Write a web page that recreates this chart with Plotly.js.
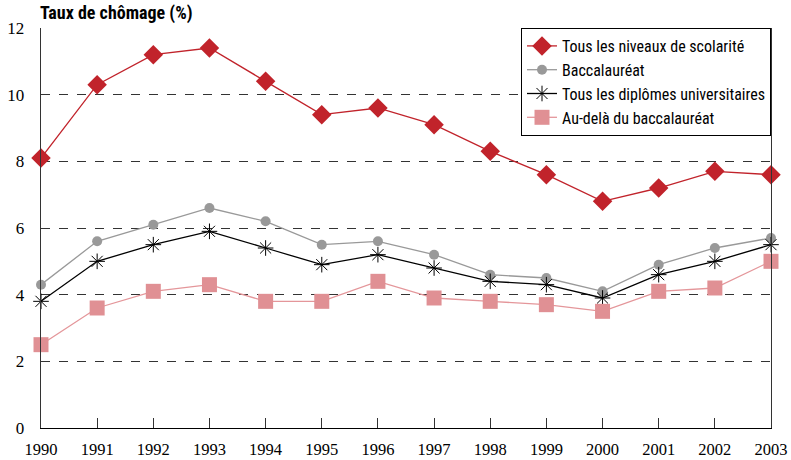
<!DOCTYPE html>
<html>
<head>
<meta charset="utf-8">
<script src="https://cdn.plot.ly/plotly-3.0.1.min.js"></script>
<style>html,body{margin:0;padding:0;background:#fff;}#chart{width:791px;height:460px;}</style>
</head>
<body>
<div id="chart"></div>
<script>
const years = [1990,1991,1992,1993,1994,1995,1996,1997,1998,1999,2000,2001,2002,2003];
const tousNiveaux = [8.1,10.3,11.2,11.4,10.4,9.4,9.6,9.1,8.3,7.6,6.8,7.2,7.7,7.6];
const baccalaureat = [4.3,5.6,6.1,6.6,6.2,5.5,5.6,5.2,4.6,4.5,4.1,4.9,5.4,5.7];
const diplomesUniv = [3.8,5.0,5.5,5.9,5.4,4.9,5.2,4.8,4.4,4.3,3.9,4.6,5.0,5.5];
const auDela = [2.5,3.6,4.1,4.3,3.8,3.8,4.4,3.9,3.8,3.7,3.5,4.1,4.2,5.0];
const seriesNames = ["Tous les niveaux de scolarité","Baccalauréat","Tous les diplômes universitaires","Au-delà du baccalauréat"];
const yTicks = [0,2,4,6,8,10,12];

const narrow = 'Liberation Sans Narrow, Roboto Condensed, sans-serif';
const serif = 'Liberation Serif, DejaVu Serif, serif';

const traces = [
  {x: years, y: tousNiveaux, name: seriesNames[0], mode: 'lines+markers',
   line: {color: '#c1232b', width: 1.3},
   marker: {symbol: 'diamond', size: 15, color: '#c1232b'}},
  {x: years, y: baccalaureat, name: seriesNames[1], mode: 'lines+markers',
   line: {color: '#999999', width: 1.3},
   marker: {symbol: 'circle', size: 10, color: '#999999'}},
  {x: years, y: diplomesUniv, name: seriesNames[2], mode: 'lines+markers',
   line: {color: '#000000', width: 1.3},
   marker: {symbol: 'asterisk-open', size: 13, color: '#000000', line: {color: '#000000', width: 1}}},
  {x: years, y: auDela, name: seriesNames[3], mode: 'lines+markers',
   line: {color: '#e4969a', width: 1.3},
   marker: {symbol: 'square', size: 15, color: '#e09094'}}
];
traces.forEach(t => t.cliponaxis = false);

const layout = {
  width: 791, height: 460,
  margin: {l: 41, r: 20, t: 28, b: 32},
  paper_bgcolor: '#fff', plot_bgcolor: '#fff',
  showlegend: true,
  legend: {x: 1, y: 1, xanchor: 'right', yanchor: 'top',
    bgcolor: '#fff', bordercolor: '#000', borderwidth: 1,
    font: {family: narrow, size: 16, color: '#000'},
    tracegroupgap: 0, itemwidth: 30},
  xaxis: {range: [1990, 2003], tickvals: years, ticktext: years.map(String),
    showgrid: false, zeroline: false, showline: true, linecolor: '#000', linewidth: 1.3,
    ticks: 'inside', ticklen: 10, tickcolor: '#333', ticklabelstandoff: 6,
    tickfont: {family: serif, size: 16.5, color: '#000'}},
  yaxis: {range: [0, 12], tickvals: yTicks, ticktext: yTicks.map(String),
    showgrid: true, gridcolor: '#333', griddash: 'dash', gridwidth: 1,
    zeroline: false, showline: true, mirror: true, linecolor: '#333', linewidth: 1.3,
    ticks: '', ticklabelstandoff: 12, tickfont: {family: serif, size: 17, color: '#000'}},
  annotations: [{text: '<b>Taux de chômage (%)</b>', xref: 'paper', yref: 'paper',
    x: -0.004, y: 1.005, xanchor: 'left', yanchor: 'bottom', showarrow: false,
    font: {family: 'Roboto Condensed, Roboto, sans-serif', size: 18, color: '#000'}}]
};
Plotly.newPlot('chart', traces, layout, {displayModeBar: false, staticPlot: true});
</script>
</body>
</html>
